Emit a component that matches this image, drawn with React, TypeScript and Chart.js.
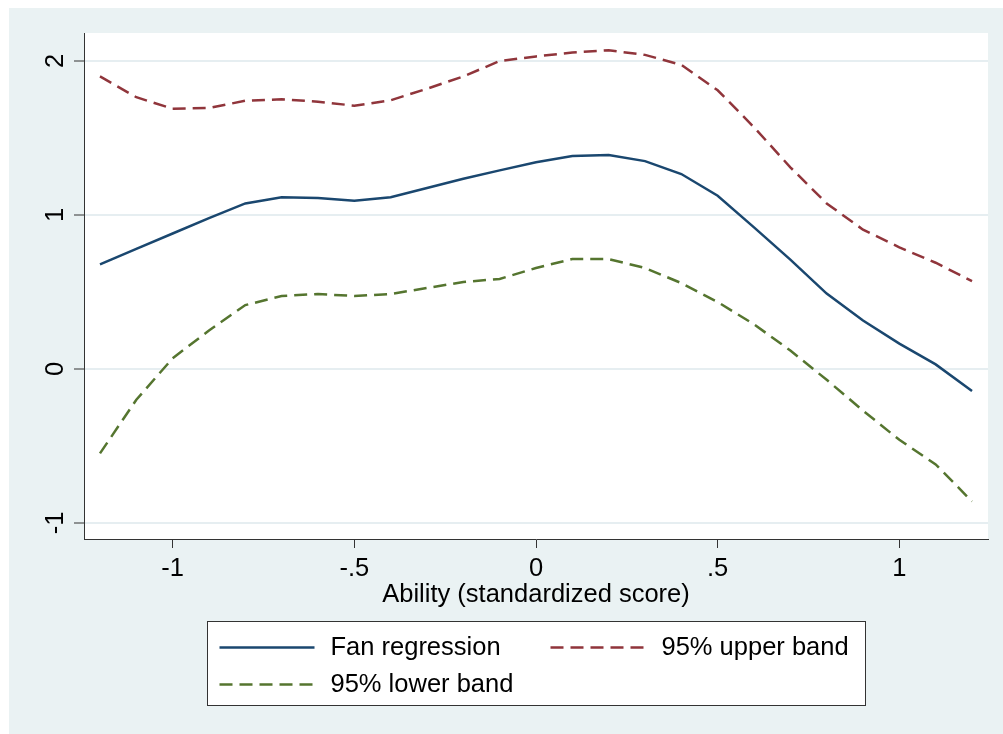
import React, { useEffect, useRef } from 'react';
import { Chart, registerables } from 'chart.js';

Chart.register(...registerables);

// ---- data ----
const xValues = [-1.2, -1.1, -1.0, -0.9, -0.8, -0.7, -0.6, -0.5, -0.4, -0.3, -0.2, -0.1, 0, 0.1, 0.2, 0.3, 0.4, 0.5, 0.6, 0.7, 0.8, 0.9, 1.0, 1.1, 1.2];
const fanRegression = [0.68, 0.78, 0.88, 0.98, 1.075, 1.115, 1.11, 1.093, 1.115, 1.175, 1.235, 1.29, 1.343, 1.383, 1.39, 1.35, 1.266, 1.125, 0.92, 0.71, 0.49, 0.315, 0.165, 0.03, -0.143];
const upperBand = [1.9, 1.765, 1.69, 1.695, 1.742, 1.751, 1.736, 1.71, 1.745, 1.82, 1.9, 2.0, 2.03, 2.055, 2.07, 2.04, 1.975, 1.81, 1.57, 1.31, 1.075, 0.905, 0.79, 0.69, 0.57];
const lowerBand = [-0.548, -0.2, 0.07, 0.25, 0.415, 0.474, 0.487, 0.474, 0.487, 0.526, 0.565, 0.585, 0.656, 0.714, 0.714, 0.656, 0.558, 0.435, 0.29, 0.12, -0.07, -0.27, -0.46, -0.62, -0.86];

const xTickValues = [-1, -0.5, 0, 0.5, 1];
const xTickLabels = ['-1', '-.5', '0', '.5', '1'];
const yTickValues = [-1, 0, 1, 2];
const yTickLabels = ['-1', '0', '1', '2'];
const seriesNames = ['Fan regression', '95% upper band', '95% lower band'];
const xAxisTitle = 'Ability (standardized score)';

// ---- styles ----
const BG = '#EAF2F3';
const GRID = '#E6EEF1';
const AXIS = '#333333';
const FONT = '"Liberation Sans", Arial, sans-serif';
const FONT_SIZE = 25.5;
const COLORS = ['#1A476F', '#90353B', '#55752F'];
const DASHES: number[][] = [[], [13, 7], [13, 7]];
const LINE_W = 2.5;

const backgroundPlugin = {
  id: 'stataBackground',
  beforeDraw(chart: any) {
    const { ctx, width, height, chartArea } = chart;
    ctx.save();
    ctx.fillStyle = BG;
    ctx.fillRect(0, 0, width, height);
    ctx.fillStyle = '#FFFFFF';
    ctx.fillRect(chartArea.left, chartArea.top, chartArea.right - chartArea.left, chartArea.bottom - chartArea.top);
    ctx.restore();
  },
};

const yLabelPlugin = {
  id: 'rotatedYLabels',
  afterDraw(chart: any) {
    const { ctx, chartArea } = chart;
    const scale = chart.scales.y;
    ctx.save();
    ctx.fillStyle = '#000';
    ctx.font = `${FONT_SIZE}px ${FONT}`;
    ctx.textAlign = 'center';
    ctx.textBaseline = 'alphabetic';
    const x = chartArea.left - 10 - 11;
    yTickValues.forEach((v, i) => {
      const y = scale.getPixelForValue(v);
      ctx.save();
      ctx.translate(x, y);
      ctx.rotate(-Math.PI / 2);
      ctx.fillText(yTickLabels[i], 0, 0);
      ctx.restore();
    });
    ctx.restore();
  },
};

const legendPlugin = {
  id: 'stataLegend',
  afterDraw(chart: any) {
    const { ctx, chartArea } = chart;
    const boxW = 658;
    const boxH = 84;
    const cx = (chartArea.left + chartArea.right) / 2;
    const left = Math.round(cx - boxW / 2) + 0.5;
    const top = 613.5;
    ctx.save();
    ctx.fillStyle = '#FFFFFF';
    ctx.fillRect(left, top, boxW, boxH);
    ctx.strokeStyle = AXIS;
    ctx.lineWidth = 1;
    ctx.strokeRect(left, top, boxW, boxH);

    const positions = [
      { x: left + 12, y: top + 26 },
      { x: left + 343, y: top + 26 },
      { x: left + 12, y: top + 63 },
    ];
    ctx.font = `${FONT_SIZE}px ${FONT}`;
    ctx.textBaseline = 'middle';
    ctx.textAlign = 'left';
    seriesNames.forEach((name, i) => {
      const p = positions[i];
      ctx.beginPath();
      ctx.setLineDash(DASHES[i]);
      ctx.strokeStyle = COLORS[i];
      ctx.lineWidth = LINE_W;
      ctx.moveTo(p.x, p.y);
      ctx.lineTo(p.x + 95, p.y);
      ctx.stroke();
      ctx.setLineDash([]);
      ctx.fillStyle = '#000';
      ctx.fillText(name, p.x + 111, p.y);
    });
    ctx.restore();
  },
};

export default function App() {
  const canvasRef = useRef<HTMLCanvasElement | null>(null);

  useEffect(() => {
    const canvas = canvasRef.current;
    if (!canvas) return;
    const series = [fanRegression, upperBand, lowerBand];
    const chart = new Chart(canvas, {
      type: 'line',
      data: {
        datasets: series.map((vals, i) => ({
          label: seriesNames[i],
          data: xValues.map((x, j) => ({ x, y: vals[j] })),
          borderColor: COLORS[i],
          backgroundColor: COLORS[i],
          borderWidth: LINE_W,
          borderDash: DASHES[i],
          pointRadius: 0,
          tension: 0,
          fill: false,
        })),
      },
      options: {
        animation: false,
        responsive: false,
        events: [],
        layout: { padding: { left: 0, top: 25, right: 15, bottom: 0 } },
        plugins: {
          legend: { display: false },
          tooltip: { enabled: false },
        },
        scales: {
          x: {
            type: 'linear',
            min: -1.244,
            max: 1.244,
            afterBuildTicks: (scale: any) => {
              scale.ticks = xTickValues.map((v) => ({ value: v }));
            },
            afterFit: (scale: any) => {
              scale.height = 195;
            },
            ticks: {
              autoSkip: false,
              maxRotation: 0,
              minRotation: 0,
              padding: 6,
              color: '#000',
              font: { family: FONT, size: FONT_SIZE },
              callback: (value: any) => {
                const idx = xTickValues.indexOf(Number(value));
                return idx >= 0 ? xTickLabels[idx] : '';
              },
            },
            grid: {
              display: true,
              drawOnChartArea: false,
              drawTicks: true,
              tickLength: 9,
              tickColor: AXIS,
              tickWidth: 1,
            },
            border: { display: true, color: AXIS, width: 1 },
            title: {
              display: true,
              text: xAxisTitle,
              color: '#000',
              font: { family: FONT, size: FONT_SIZE },
              padding: { top: 0, bottom: 124 },
            },
          },
          y: {
            type: 'linear',
            min: -1.104,
            max: 2.182,
            afterBuildTicks: (scale: any) => {
              scale.ticks = yTickValues.map((v) => ({ value: v }));
            },
            afterFit: (scale: any) => {
              scale.width = 75;
            },
            ticks: { display: false },
            grid: {
              display: true,
              drawOnChartArea: true,
              drawTicks: true,
              tickLength: 10,
              color: GRID,
              lineWidth: 2,
              tickColor: AXIS,
              tickWidth: 1,
            },
            border: { display: true, color: AXIS, width: 1 },
          },
        },
      },
      plugins: [backgroundPlugin, yLabelPlugin, legendPlugin],
    } as any);
    return () => chart.destroy();
  }, []);

  return (
    <div style={{ position: 'fixed', left: 0, top: 0, width: 1003, height: 734, background: '#fff' }}>
      <canvas
        ref={canvasRef}
        width={994}
        height={726}
        style={{ position: 'absolute', left: 9, top: 8, width: 994, height: 726, display: 'block' }}
      />
    </div>
  );
}
